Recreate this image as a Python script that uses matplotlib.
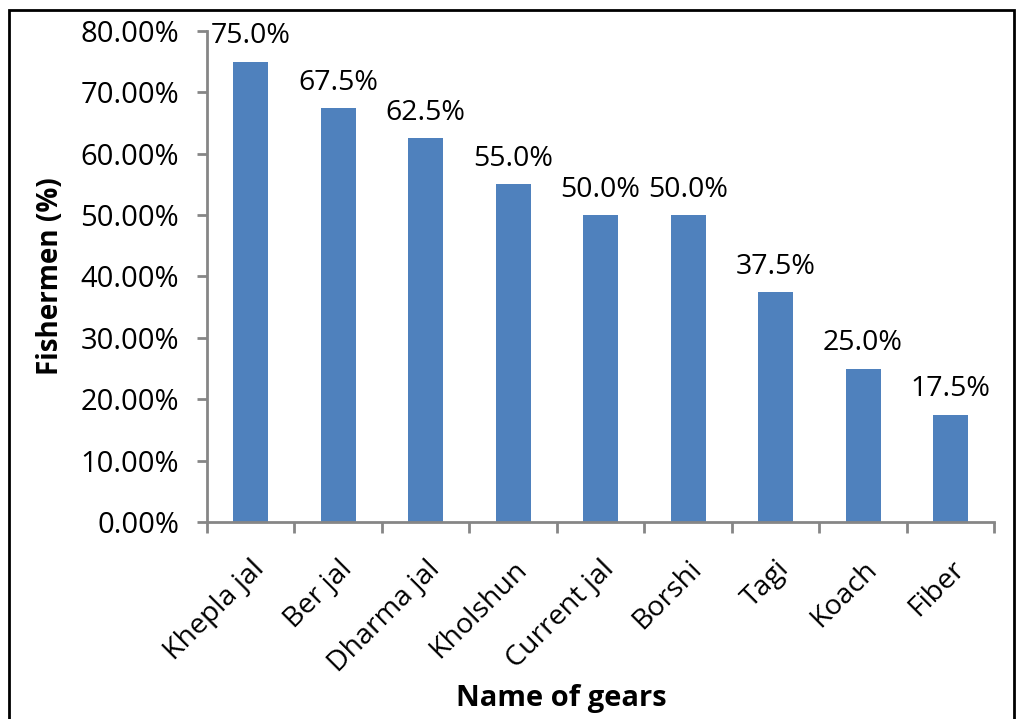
import matplotlib.pyplot as plt
from matplotlib.patches import Rectangle

gears = ['Khepla jal', 'Ber jal', 'Dharma jal', 'Kholshun', 'Current jal',
         'Borshi', 'Tagi', 'Koach', 'Fiber']
percent = [75.0, 67.5, 62.5, 55.0, 50.0, 50.0, 37.5, 25.0, 17.5]
yticks = [0, 10, 20, 30, 40, 50, 60, 70, 80]

plt.rcParams['font.family'] = ['Open Sans', 'DejaVu Sans']
axis_col = '#868686'

fig = plt.figure(figsize=(10.24, 7.19), dpi=100)
ax = fig.add_axes([0.202, 0.274, 0.769, 0.683])

x = list(range(len(gears)))
ax.bar(x, percent, width=0.4, color='#4F81BD', zorder=2)
for xi, v in zip(x, percent):
    ax.annotate('{:.1f}%'.format(v), (xi, v), xytext=(0, 8), textcoords='offset points',
                ha='center', va='bottom', fontsize=20.5)

ax.set_xlim(-0.5, len(gears) - 0.5)
ax.set_ylim(0, 80)
ax.set_yticks(yticks)
ax.set_yticklabels(['{:.2f}%'.format(t) for t in yticks], fontsize=21)
ax.set_xticks(x)
ax.set_xticklabels(gears, rotation=45, ha='right', rotation_mode='anchor', fontsize=20.5)
ax.tick_params(axis='x', length=0, pad=24)
ax.set_xticks([i - 0.5 for i in range(len(gears) + 1)], minor=True)
ax.tick_params(axis='x', which='minor', length=8, width=2, color=axis_col)
ax.tick_params(axis='y', length=7, width=2, color=axis_col, pad=13)

for s in ['top', 'right']:
    ax.spines[s].set_visible(False)
for s in ['left', 'bottom']:
    ax.spines[s].set_color(axis_col)
    ax.spines[s].set_linewidth(2)

ax.set_ylabel('Fishermen (%)', fontsize=20, fontweight='bold')
ax.set_xlabel('Name of gears', fontsize=21, fontweight='bold')
ax.yaxis.set_label_coords(-0.199, 0.5)
ax.xaxis.set_label_coords(0.45, -0.36)
ax.xaxis.label.set_va('center')
ax.yaxis.label.set_va('center')

fig.patches.append(Rectangle((9 / 1024, -0.05), 1005 / 1024, 1.05 - 10 / 719,
                             transform=fig.transFigure, fill=False,
                             edgecolor='black', linewidth=2))

fig.savefig('out.png', dpi=100)
